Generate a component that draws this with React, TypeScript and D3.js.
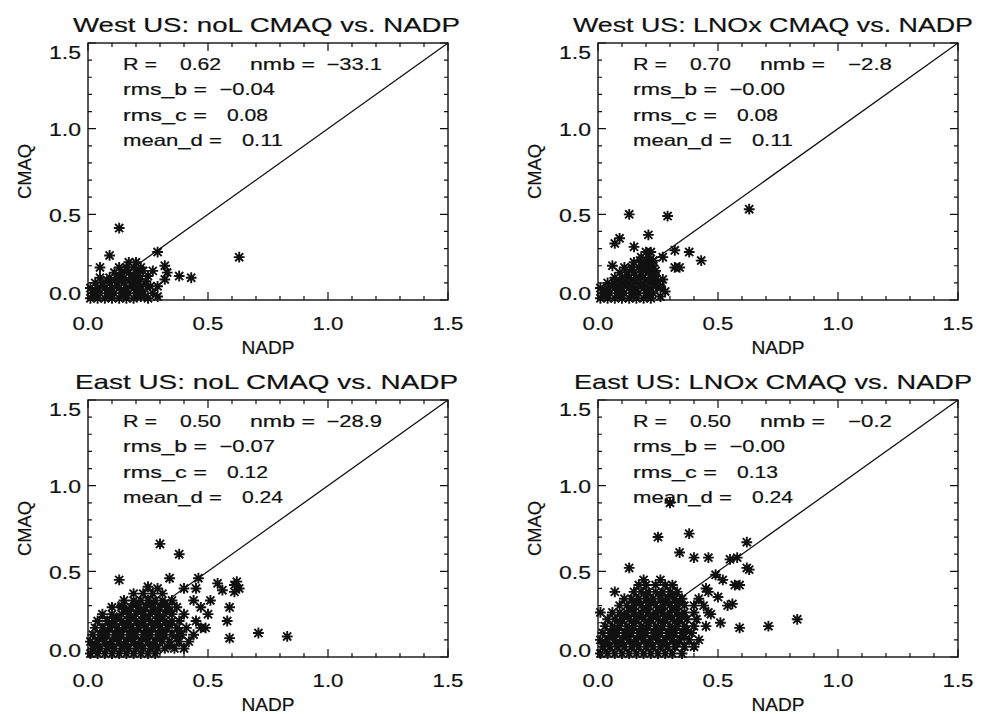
import React from "react";
import * as d3 from "d3";

type Pt = [number, number];

const majorTicks = [0, 0.5, 1.0, 1.5];
const tickLabels = ["0.0", "0.5", "1.0", "1.5"];
const minorTicks = [0.1, 0.2, 0.3, 0.4, 0.6, 0.7, 0.8, 0.9, 1.1, 1.2, 1.3, 1.4];

const titles = [
  "West US: noL CMAQ vs. NADP",
  "West US: LNOx CMAQ vs. NADP",
  "East US: noL CMAQ vs. NADP",
  "East US: LNOx CMAQ vs. NADP",
];
const statR = ["0.62", "0.70", "0.50", "0.50"];
const statNmb = ["-33.1", "-2.8", "-28.9", "-0.2"];
const statRmsB = ["-0.04", "-0.00", "-0.07", "-0.00"];
const statRmsC = ["0.08", "0.08", "0.12", "0.13"];
const statMeanD = ["0.11", "0.11", "0.24", "0.24"];
const xLabel = "NADP";
const yLabel = "CMAQ";

const westNoL: Pt[] = [
  [0.01, 0.01], [0.04, 0.01], [0.07, 0.01], [0.10, 0.01], [0.13, 0.01], [0.16, 0.01], [0.19, 0.01], [0.22, 0.02], [0.25, 0.01], [0.29, 0.02],
  [0.02, 0.04], [0.05, 0.04], [0.08, 0.04], [0.11, 0.04], [0.14, 0.04], [0.17, 0.04], [0.20, 0.04], [0.23, 0.05], [0.27, 0.04],
  [0.01, 0.07], [0.04, 0.07], [0.07, 0.07], [0.10, 0.07], [0.13, 0.07], [0.16, 0.07], [0.19, 0.07], [0.22, 0.08], [0.26, 0.08],
  [0.03, 0.10], [0.06, 0.10], [0.09, 0.10], [0.12, 0.10], [0.15, 0.10], [0.18, 0.10], [0.21, 0.11], [0.24, 0.11],
  [0.05, 0.13], [0.09, 0.13], [0.12, 0.13], [0.15, 0.13], [0.18, 0.13], [0.21, 0.14], [0.25, 0.14],
  [0.11, 0.16], [0.14, 0.16], [0.17, 0.16], [0.20, 0.16], [0.23, 0.17],
  [0.13, 0.19], [0.16, 0.19], [0.19, 0.19], [0.22, 0.19],
  [0.17, 0.22], [0.20, 0.22],
  [0.03, 0.025], [0.09, 0.025], [0.15, 0.025], [0.21, 0.03], [0.03, 0.055], [0.09, 0.055], [0.15, 0.055], [0.21, 0.06],
  [0.06, 0.085], [0.12, 0.085], [0.18, 0.085], [0.24, 0.09], [0.08, 0.115], [0.14, 0.115], [0.20, 0.12],
  [0.13, 0.145], [0.19, 0.145], [0.16, 0.175], [0.21, 0.175],
  [0.13, 0.42], [0.09, 0.26], [0.29, 0.28], [0.63, 0.25], [0.43, 0.13], [0.38, 0.14],
  [0.32, 0.20], [0.33, 0.16], [0.32, 0.12], [0.05, 0.19], [0.27, 0.17], [0.29, 0.08],
];

const westLNOx: Pt[] = [
  [0.01, 0.01], [0.04, 0.01], [0.07, 0.01], [0.10, 0.01], [0.13, 0.01], [0.16, 0.01], [0.19, 0.01], [0.22, 0.01], [0.26, 0.02],
  [0.02, 0.04], [0.05, 0.04], [0.08, 0.04], [0.11, 0.04], [0.14, 0.04], [0.17, 0.04], [0.20, 0.04], [0.23, 0.04], [0.28, 0.05],
  [0.01, 0.07], [0.04, 0.07], [0.07, 0.07], [0.10, 0.07], [0.13, 0.07], [0.16, 0.07], [0.19, 0.07], [0.22, 0.07], [0.26, 0.08],
  [0.04, 0.10], [0.07, 0.10], [0.10, 0.10], [0.13, 0.10], [0.16, 0.10], [0.19, 0.10], [0.22, 0.10], [0.25, 0.11],
  [0.07, 0.13], [0.10, 0.13], [0.13, 0.13], [0.16, 0.13], [0.19, 0.13], [0.22, 0.13], [0.24, 0.14],
  [0.09, 0.16], [0.12, 0.16], [0.15, 0.16], [0.18, 0.16], [0.21, 0.16], [0.24, 0.17],
  [0.11, 0.19], [0.14, 0.19], [0.17, 0.19], [0.20, 0.19], [0.23, 0.20],
  [0.15, 0.22], [0.18, 0.22], [0.21, 0.22], [0.23, 0.23],
  [0.18, 0.25], [0.21, 0.25], [0.20, 0.28], [0.22, 0.28],
  [0.03, 0.025], [0.09, 0.025], [0.15, 0.025], [0.21, 0.025], [0.03, 0.055], [0.09, 0.055], [0.15, 0.055], [0.21, 0.055],
  [0.06, 0.085], [0.12, 0.085], [0.18, 0.085], [0.24, 0.09], [0.09, 0.115], [0.15, 0.115], [0.21, 0.115],
  [0.12, 0.145], [0.18, 0.145], [0.22, 0.15], [0.14, 0.175], [0.20, 0.175], [0.19, 0.21],
  [0.13, 0.50], [0.29, 0.49], [0.63, 0.53], [0.09, 0.36], [0.07, 0.33], [0.21, 0.38],
  [0.15, 0.31], [0.32, 0.29], [0.38, 0.28], [0.43, 0.23], [0.32, 0.19], [0.34, 0.19],
  [0.27, 0.25], [0.06, 0.20], [0.26, 0.07], [0.27, 0.12],
];

const eastNoL: Pt[] = [
  [0.01, 0.02], [0.04, 0.02], [0.07, 0.02], [0.10, 0.02], [0.13, 0.02], [0.16, 0.02], [0.19, 0.02], [0.22, 0.02], [0.25, 0.02], [0.28, 0.02],
  [0.02, 0.05], [0.05, 0.05], [0.08, 0.05], [0.11, 0.05], [0.14, 0.05], [0.17, 0.05], [0.20, 0.05], [0.23, 0.05], [0.26, 0.05], [0.29, 0.05], [0.32, 0.05], [0.36, 0.05], [0.40, 0.05],
  [0.01, 0.09], [0.04, 0.09], [0.07, 0.09], [0.10, 0.09], [0.13, 0.09], [0.16, 0.09], [0.19, 0.09], [0.22, 0.09], [0.25, 0.09], [0.28, 0.09], [0.31, 0.09], [0.34, 0.09], [0.38, 0.09], [0.42, 0.09],
  [0.02, 0.13], [0.05, 0.13], [0.08, 0.13], [0.11, 0.13], [0.14, 0.13], [0.17, 0.13], [0.20, 0.13], [0.23, 0.13], [0.26, 0.13], [0.29, 0.13], [0.32, 0.13], [0.35, 0.13], [0.39, 0.13], [0.44, 0.13],
  [0.03, 0.17], [0.06, 0.17], [0.09, 0.17], [0.12, 0.17], [0.15, 0.17], [0.18, 0.17], [0.21, 0.17], [0.24, 0.17], [0.27, 0.17], [0.30, 0.17], [0.33, 0.17], [0.37, 0.17], [0.41, 0.17], [0.47, 0.17],
  [0.04, 0.21], [0.08, 0.21], [0.11, 0.21], [0.14, 0.21], [0.17, 0.21], [0.20, 0.21], [0.23, 0.21], [0.26, 0.21], [0.29, 0.21], [0.32, 0.21], [0.35, 0.21], [0.38, 0.21], [0.45, 0.21],
  [0.06, 0.25], [0.10, 0.25], [0.14, 0.25], [0.17, 0.25], [0.20, 0.25], [0.23, 0.25], [0.26, 0.25], [0.29, 0.25], [0.32, 0.25], [0.35, 0.25], [0.40, 0.25],
  [0.10, 0.29], [0.14, 0.29], [0.18, 0.29], [0.21, 0.29], [0.24, 0.29], [0.27, 0.29], [0.30, 0.29], [0.33, 0.29], [0.37, 0.29],
  [0.15, 0.33], [0.19, 0.33], [0.22, 0.33], [0.25, 0.33], [0.28, 0.33], [0.31, 0.33], [0.35, 0.33],
  [0.19, 0.37], [0.23, 0.37], [0.27, 0.37], [0.31, 0.37], [0.25, 0.41], [0.29, 0.40],
  [0.03, 0.07], [0.09, 0.07], [0.15, 0.07], [0.21, 0.07], [0.27, 0.07], [0.34, 0.07],
  [0.06, 0.11], [0.12, 0.11], [0.18, 0.11], [0.24, 0.11], [0.30, 0.11], [0.37, 0.11],
  [0.07, 0.15], [0.13, 0.15], [0.19, 0.15], [0.25, 0.15], [0.31, 0.15], [0.38, 0.15],
  [0.10, 0.19], [0.16, 0.19], [0.22, 0.19], [0.28, 0.19], [0.34, 0.19],
  [0.12, 0.23], [0.18, 0.23], [0.24, 0.23], [0.30, 0.23],
  [0.16, 0.27], [0.22, 0.27], [0.28, 0.27], [0.34, 0.27],
  [0.20, 0.31], [0.26, 0.31], [0.32, 0.31],
  [0.30, 0.66], [0.38, 0.60], [0.13, 0.45], [0.34, 0.46], [0.46, 0.46], [0.54, 0.43],
  [0.61, 0.42], [0.62, 0.44], [0.63, 0.40], [0.61, 0.38], [0.59, 0.29], [0.59, 0.11],
  [0.58, 0.21], [0.71, 0.14], [0.83, 0.12], [0.40, 0.40], [0.45, 0.40], [0.51, 0.33],
  [0.56, 0.39], [0.49, 0.17], [0.44, 0.33], [0.50, 0.25], [0.47, 0.29], [0.14, 0.30],
];

const eastLNOx: Pt[] = [
  [0.01, 0.02], [0.04, 0.02], [0.07, 0.02], [0.10, 0.02], [0.13, 0.02], [0.16, 0.02], [0.19, 0.02], [0.22, 0.02], [0.25, 0.02], [0.28, 0.02], [0.31, 0.02], [0.35, 0.02],
  [0.02, 0.06], [0.05, 0.06], [0.08, 0.06], [0.11, 0.06], [0.14, 0.06], [0.17, 0.06], [0.20, 0.06], [0.23, 0.06], [0.26, 0.06], [0.29, 0.06], [0.32, 0.06], [0.36, 0.06], [0.40, 0.06],
  [0.01, 0.10], [0.04, 0.10], [0.07, 0.10], [0.10, 0.10], [0.13, 0.10], [0.16, 0.10], [0.19, 0.10], [0.22, 0.10], [0.25, 0.10], [0.28, 0.10], [0.31, 0.10], [0.34, 0.10], [0.38, 0.10], [0.42, 0.10],
  [0.02, 0.14], [0.05, 0.14], [0.08, 0.14], [0.11, 0.14], [0.14, 0.14], [0.17, 0.14], [0.20, 0.14], [0.23, 0.14], [0.26, 0.14], [0.29, 0.14], [0.32, 0.14], [0.35, 0.14], [0.39, 0.14],
  [0.03, 0.18], [0.06, 0.18], [0.09, 0.18], [0.12, 0.18], [0.15, 0.18], [0.18, 0.18], [0.21, 0.18], [0.24, 0.18], [0.27, 0.18], [0.30, 0.18], [0.33, 0.18], [0.36, 0.18], [0.40, 0.18], [0.45, 0.18],
  [0.04, 0.22], [0.07, 0.22], [0.10, 0.22], [0.13, 0.22], [0.16, 0.22], [0.19, 0.22], [0.22, 0.22], [0.25, 0.22], [0.28, 0.22], [0.31, 0.22], [0.34, 0.22], [0.37, 0.22], [0.41, 0.22],
  [0.01, 0.26], [0.06, 0.26], [0.09, 0.26], [0.12, 0.26], [0.15, 0.26], [0.18, 0.26], [0.21, 0.26], [0.24, 0.26], [0.27, 0.26], [0.30, 0.26], [0.33, 0.26], [0.36, 0.26], [0.40, 0.26], [0.46, 0.26],
  [0.09, 0.30], [0.12, 0.30], [0.15, 0.30], [0.18, 0.30], [0.21, 0.30], [0.24, 0.30], [0.27, 0.30], [0.30, 0.30], [0.33, 0.30], [0.36, 0.30], [0.40, 0.30], [0.44, 0.30],
  [0.11, 0.34], [0.14, 0.34], [0.17, 0.34], [0.20, 0.34], [0.23, 0.34], [0.26, 0.34], [0.29, 0.34], [0.32, 0.34], [0.35, 0.34], [0.42, 0.34],
  [0.15, 0.38], [0.18, 0.38], [0.21, 0.38], [0.24, 0.38], [0.27, 0.38], [0.30, 0.38], [0.33, 0.38], [0.46, 0.38],
  [0.17, 0.42], [0.20, 0.42], [0.24, 0.42], [0.28, 0.42], [0.31, 0.42], [0.19, 0.45], [0.26, 0.45],
  [0.03, 0.08], [0.09, 0.08], [0.15, 0.08], [0.21, 0.08], [0.27, 0.08], [0.33, 0.08],
  [0.06, 0.12], [0.12, 0.12], [0.18, 0.12], [0.24, 0.12], [0.30, 0.12], [0.36, 0.12],
  [0.07, 0.16], [0.13, 0.16], [0.19, 0.16], [0.25, 0.16], [0.31, 0.16], [0.37, 0.16],
  [0.09, 0.20], [0.15, 0.20], [0.21, 0.20], [0.27, 0.20], [0.33, 0.20],
  [0.11, 0.24], [0.17, 0.24], [0.23, 0.24], [0.29, 0.24], [0.35, 0.24],
  [0.14, 0.28], [0.20, 0.28], [0.26, 0.28], [0.32, 0.28],
  [0.16, 0.32], [0.22, 0.32], [0.28, 0.32], [0.34, 0.32],
  [0.20, 0.36], [0.26, 0.36], [0.31, 0.36],
  [0.30, 0.90], [0.25, 0.70], [0.38, 0.72], [0.34, 0.61], [0.40, 0.58], [0.46, 0.58],
  [0.13, 0.52], [0.62, 0.67], [0.55, 0.57], [0.58, 0.58], [0.62, 0.52], [0.63, 0.51],
  [0.57, 0.42], [0.59, 0.42], [0.56, 0.31], [0.51, 0.20], [0.59, 0.17], [0.71, 0.18],
  [0.83, 0.22], [0.07, 0.38], [0.49, 0.48], [0.52, 0.45], [0.45, 0.40], [0.50, 0.35],
  [0.54, 0.30], [0.47, 0.25],
];

const panelData: Pt[][] = [westNoL, westLNOx, eastNoL, eastLNOx];

// layout
const PW = 360;
const PH = 257;
const LEFTS = [88, 598];
const TOPS = [43, 400];
const TITLE_CX = [266.5, 773];
const TITLE_W = [387, 400, 383, 398];
const FONT = "'Liberation Sans', Arial, Helvetica, sans-serif";
const INK = "#111";
const TXT_STROKE = 0.2;

function valueWidth(s: string) {
  let w = 0;
  for (const c of s) {
    if (c === ".") w += 6;
    else if (c === "-") w += 14.5;
    else w += 11.7;
  }
  return w;
}
const disp = (s: string) => s.replace("-", "\u2212");

function ValText({ s, right, y }: { s: string; right: number; y: number }) {
  const w = valueWidth(s);
  return (
    <text x={right - w} y={y} textLength={w} lengthAdjust="spacingAndGlyphs">
      {disp(s)}
    </text>
  );
}

function Panel({ i }: { i: number }) {
  const col = i % 2;
  const row = Math.floor(i / 2);
  const left = LEFTS[col];
  const top = TOPS[row];
  const x = d3.scaleLinear().domain([0, 1.5]).range([left, left + PW]);
  const y = d3.scaleLinear().domain([0, 1.5]).range([top + PH, top]);
  const bottom = top + PH;
  const right = left + PW;
  const r = 5.4;
  const dd = r * 0.75;
  const star = (p: Pt) => {
    const cx = x(p[0]);
    const cy = y(p[1]);
    return `M${cx - r},${cy}h${2 * r}M${cx},${cy - r}v${2 * r}M${cx - dd},${cy - dd}l${2 * dd},${2 * dd}M${cx - dd},${cy + dd}l${2 * dd},${-2 * dd}`;
  };
  const path = panelData[i].map(star).join("");
  const line = d3.line<Pt>().x((d) => x(d[0])).y((d) => y(d[1]))([
    [0, 0],
    [1.5, 1.5],
  ]);
  const MAJ = 8;
  const MIN = 4;
  let ticks = "";
  majorTicks.forEach((v) => {
    ticks += `M${x(v)},${bottom}v${-MAJ}M${x(v)},${top}v${MAJ}`;
    ticks += `M${left},${y(v)}h${MAJ}M${right},${y(v)}h${-MAJ}`;
  });
  minorTicks.forEach((v) => {
    ticks += `M${x(v)},${bottom}v${-MIN}M${x(v)},${top}v${MIN}`;
    ticks += `M${left},${y(v)}h${MIN}M${right},${y(v)}h${-MIN}`;
  });
  const sx = left + 35;
  const l1 = top + 27;
  const dy = 25.3;
  const yLabOff = (v: number) => (v === 0 ? 0 : v === 1.5 ? 16 : 7.5);
  return (
    <g fontFamily={FONT} fill={INK}>
      <path d={path} stroke={INK} strokeWidth={1.9} fill="none" />
      <path d={line || ""} stroke={INK} strokeWidth={1.3} fill="none" />
      <rect x={left} y={top} width={PW} height={PH} fill="none" stroke={INK} strokeWidth={1.4} />
      <path d={ticks} stroke={INK} strokeWidth={1.2} fill="none" />
      <g stroke={INK} strokeWidth={TXT_STROKE}>
        <text
          x={TITLE_CX[col] - TITLE_W[i] / 2}
          y={row === 0 ? 32 : 389}
          fontSize={21}
          textLength={TITLE_W[i]}
          lengthAdjust="spacingAndGlyphs"
        >
          {titles[i]}
        </text>
        {majorTicks.map((v, k) => (
          <text
            key={"xl" + k}
            x={x(v) - 15.5}
            y={bottom + 30}
            fontSize={19}
            textLength={31}
            lengthAdjust="spacingAndGlyphs"
          >
            {tickLabels[k]}
          </text>
        ))}
        {majorTicks.map((v, k) => (
          <text
            key={"yl" + k}
            x={left - 39}
            y={y(v) + yLabOff(v)}
            fontSize={19}
            textLength={32}
            lengthAdjust="spacingAndGlyphs"
          >
            {tickLabels[k]}
          </text>
        ))}
        <text x={(left + right) / 2 - 26.5} y={bottom + 54} fontSize={17.5} textLength={53} lengthAdjust="spacingAndGlyphs">
          {xLabel}
        </text>
        <text
          transform={`translate(${left - 57},${(top + bottom) / 2 + 27.5}) rotate(-90)`}
          fontSize={17.5}
          textLength={55}
          lengthAdjust="spacingAndGlyphs"
        >
          {yLabel}
        </text>
        <g fontSize={16.5}>
          <text x={sx} y={l1} textLength={34} lengthAdjust="spacingAndGlyphs">R =</text>
          <ValText s={statR[i]} right={sx + 98} y={l1} />
          <text x={sx + 127} y={l1} textLength={65} lengthAdjust="spacingAndGlyphs">nmb =</text>
          <ValText s={statNmb[i]} right={sx + 259} y={l1} />
          <text x={sx} y={l1 + dy} textLength={84} lengthAdjust="spacingAndGlyphs">rms_b =</text>
          <ValText s={statRmsB[i]} right={sx + 152} y={l1 + dy} />
          <text x={sx} y={l1 + 2 * dy} textLength={84} lengthAdjust="spacingAndGlyphs">rms_c =</text>
          <ValText s={statRmsC[i]} right={sx + 145} y={l1 + 2 * dy} />
          <text x={sx} y={l1 + 3 * dy} textLength={99} lengthAdjust="spacingAndGlyphs">mean_d =</text>
          <ValText s={statMeanD[i]} right={sx + 160} y={l1 + 3 * dy} />
        </g>
      </g>
    </g>
  );
}

export default function App() {
  return (
    <svg
      width={981}
      height={714}
      style={{ position: "absolute", left: 0, top: 0, background: "#fff" }}
    >
      <rect width={981} height={714} fill="#fff" />
      {[0, 1, 2, 3].map((i) => (
        <Panel key={i} i={i} />
      ))}
    </svg>
  );
}
